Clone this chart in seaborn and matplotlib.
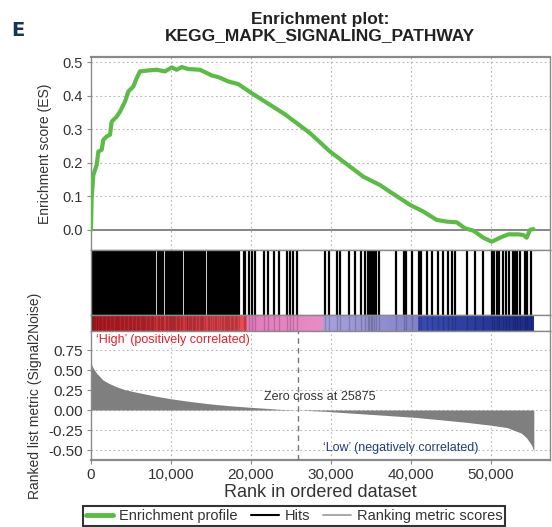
import numpy as np
import pandas as pd
import matplotlib
matplotlib.use("Agg")
import matplotlib.pyplot as plt
from matplotlib.colors import LinearSegmentedColormap
from matplotlib.lines import Line2D
import seaborn as sns

sns.set_style("white")
plt.rcParams["font.family"] = ["Liberation Sans", "DejaVu Sans"]

# Running enrichment score (rank, ES)
es_rank = [0, 80, 290, 710, 920, 1330, 1540, 1960, 2375, 2580, 3210, 3625, 4250, 4670,
           5290, 5710, 6125, 7170, 8210, 9250, 10090, 10710, 11340, 12170, 13625,
           15090, 15920, 17170, 18420, 20090, 24250, 27375, 29875, 31540, 34040,
           36125, 37375, 39875, 41540, 43210, 44460, 45710, 46750, 47790, 49040,
           50090, 51125, 52170, 53420, 54040, 54460, 54875, 55290]
es_value = [0.0, 0.095, 0.164, 0.194, 0.234, 0.239, 0.269, 0.279, 0.284, 0.323, 0.338,
            0.353, 0.383, 0.413, 0.428, 0.453, 0.473, 0.476, 0.478, 0.473, 0.485,
            0.478, 0.486, 0.480, 0.478, 0.461, 0.456, 0.443, 0.435, 0.408, 0.345,
            0.289, 0.234, 0.204, 0.159, 0.134, 0.114, 0.075, 0.055, 0.030, 0.025,
            0.023, 0.005, -0.002, -0.023, -0.035, -0.023, -0.013, -0.013, -0.015,
            -0.023, 0.0, 0.003]

# Positions of gene-set members in the ranked list
hit_ranks = [15, 90, 180, 300, 430, 560, 690, 790, 960, 1120, 1290, 1460, 1620, 1790,
             1960, 2125, 2290, 2460, 2630, 2800, 2970, 3120, 3210, 3375, 3540, 3710,
             3880, 4050, 4220, 4390, 4560, 4710, 4875, 5040, 5210, 5380, 5550, 5710,
             5875, 6040, 6210, 6380, 6460, 6625, 6790, 6960, 7125, 7290, 7460, 7630,
             7800, 7960, 8375, 8540, 8710, 8880, 9040, 9375, 9540, 9710, 9880, 9960,
             10125, 10290, 10375, 10540, 10710, 10880, 11050, 11220, 11375, 11790,
             11960, 12040, 12210, 12380, 12550, 12720, 12890, 13060, 13230, 13400,
             13570, 13710, 13875, 14040, 14210, 14625, 14790, 15000, 15200, 15440,
             15600, 15875, 16100, 16375, 16540, 16710, 16880, 17000, 17125, 17290,
             17460, 17630, 17800, 17970, 18140, 18310, 18440, 19125, 19300, 19690,
             20125, 20500, 21625, 22125, 22910, 23500, 24460, 24875, 25250, 25690,
             29190, 29770, 30750, 31160, 32310, 33040, 33770, 34190, 34625, 34800,
             34980, 35160, 35340, 35650, 36040, 38160, 39160, 39410, 40150, 41040,
             41290, 42000, 42660, 43400, 44000, 44600, 45090, 45500, 47000, 48000,
             49025, 50125, 50375, 50710, 51000, 51560, 51875, 52250, 52690, 53000,
             53310, 53625, 54250, 54560, 55025]

# Ranked list metric (Signal2Noise)
metric_rank = [0, 100, 300, 700, 1500, 2300, 3200, 4200, 5300, 6500, 8000, 10000,
               12500, 15000, 17500, 20000, 22000, 23600, 25875, 26000, 29000, 32000,
               35000, 38000, 40250, 44000, 47000, 50000, 52000, 52790, 53800, 54460,
               55080, 55300, 55350]
metric_value = [0.60, 0.56, 0.52, 0.46, 0.375, 0.33, 0.29, 0.255, 0.23, 0.205, 0.175,
                0.14, 0.105, 0.075, 0.052, 0.033, 0.02, 0.008, 0.0, -0.001, -0.015,
                -0.035, -0.055, -0.075, -0.09, -0.125, -0.155, -0.19, -0.22, -0.25,
                -0.29, -0.35, -0.44, -0.5, -0.54]

n_genes = 55350
zero_cross = 25875
x_ticks = [0, 10000, 20000, 30000, 40000, 50000]
x_ticklabels = ["0", "10,000", "20,000", "30,000", "40,000", "50,000"]
es_ticks = [0.0, 0.1, 0.2, 0.3, 0.4, 0.5]
metric_ticks = [0.75, 0.5, 0.25, 0.0, -0.25, -0.5]
metric_ticklabels = ["0.75", "0.50", "0.25", "0.00", "-0.25", "-0.50"]

GREEN = "#5cba47"
SPINE = "#8a8a8a"
TXT = "#333333"
W, H = 552, 527
XMAX = 57375

fig = plt.figure(figsize=(W / 100, H / 100), dpi=100)


def box(top, bottom):
    return [91 / W, 1 - bottom / H, 459 / W, (bottom - top) / H]


ax_es = fig.add_axes(box(57, 250))
ax_hits = fig.add_axes(box(250, 315))
ax_band = fig.add_axes(box(315, 331))
ax_rank = fig.add_axes(box(331, 460))

grid_kw = dict(color="#b5b5b5", lw=0.8, ls=(0, (1.5, 2.5)))

for ax in (ax_es, ax_hits, ax_band, ax_rank):
    ax.set_xlim(0, XMAX)
    for s in ax.spines.values():
        s.set_color(SPINE)
        s.set_linewidth(1.0)

# --- enrichment score panel
es_df = pd.DataFrame({"rank": es_rank, "es": es_value})
for gx in x_ticks[1:]:
    ax_es.axvline(gx, **grid_kw, zorder=0)
for gy in es_ticks[1:]:
    ax_es.axhline(gy, **grid_kw, zorder=0)
ax_es.axhline(0, color="#666666", lw=1.1, zorder=1)
sns.lineplot(data=es_df, x="rank", y="es", ax=ax_es, color=GREEN, lw=3.0,
             solid_capstyle="round", zorder=3)
ax_es.set_ylim(-0.0597, 0.516)
ax_es.set_yticks(es_ticks)
ax_es.set_yticklabels([f"{t:.1f}" for t in es_ticks])
ax_es.set_xticks([])
ax_es.set_xlabel("")
ax_es.set_ylabel("Enrichment score (ES)", fontsize=10, color=TXT, labelpad=7)
ax_es.spines["top"].set_linewidth(1.6)
ax_es.tick_params(axis="y", length=3, width=0.8, color=SPINE, labelsize=10.5,
                  labelcolor=TXT, pad=3, left=True)

# --- hits panel
ax_hits.vlines(hit_ranks, 0, 1, color="black", lw=1.6)
ax_hits.set_ylim(0, 1)
ax_hits.set_xticks([])
ax_hits.set_yticks([])

# --- colour band
band_cmap = LinearSegmentedColormap.from_list(
    "band",
    [(0.0, "#c61d27"), (0.35, "#ee4d56"), (0.351, "#e37cbd"), (0.523, "#e88cc6"),
     (0.524, "#a7a3dc"), (0.74, "#8382c8"), (0.741, "#3a4cb2"), (1.0, "#1d2c8a")])
ax_band.imshow(np.linspace(0, 1, 600)[None, :], cmap=band_cmap, aspect="auto",
               extent=[0, n_genes, 0, 1], zorder=1)
ax_band.vlines(hit_ranks, 0, 1, color="black", lw=1.0, alpha=0.18, zorder=2)
ax_band.set_xlim(0, XMAX)
ax_band.set_ylim(0, 1)
ax_band.set_xticks([])
ax_band.set_yticks([])

# --- ranked list metric panel
for gx in x_ticks[1:]:
    ax_rank.axvline(gx, **grid_kw, zorder=0)
for gy in metric_ticks:
    ax_rank.axhline(gy, **grid_kw, zorder=0)
ax_rank.fill_between(metric_rank, metric_value, 0, color="#7f7f7f", lw=0, zorder=2)
ax_rank.axvline(zero_cross, color="#777777", lw=1.0, ls=(0, (4, 3)), zorder=3)
ax_rank.set_ylim(-0.625, 0.9875)
ax_rank.set_yticks(metric_ticks)
ax_rank.set_yticklabels(metric_ticklabels)
ax_rank.set_xticks(x_ticks)
ax_rank.set_xticklabels(x_ticklabels)
ax_rank.tick_params(axis="both", length=3, width=0.8, color=SPINE, labelsize=11,
                    labelcolor=TXT, pad=3, left=True, bottom=True)
ax_rank.spines["bottom"].set_linewidth(1.6)
ax_rank.set_xlabel("Rank in ordered dataset", fontsize=13, color=TXT, labelpad=1)
ax_rank.set_ylabel("Ranked list metric (Signal2Noise)", fontsize=10, color=TXT,
                   labelpad=4)
ax_rank.text(600, 0.875, "\u2018High\u2019 (positively correlated)", color="#e8202a",
             fontsize=9, va="center", ha="left")
ax_rank.text(28600, 0.16, f"Zero cross at {zero_cross}", color=TXT,
             fontsize=9, va="center", ha="center")
ax_rank.text(29000, -0.475, "\u2018Low\u2019 (negatively correlated)", color="#1f3f80",
             fontsize=9, va="center", ha="left")

# --- titles
fig.text(320 / W, 1 - 12 / H, "Enrichment plot:\nKEGG_MAPK_SIGNALING_PATHWAY",
         ha="center", va="top", fontsize=12.5, fontweight="bold", color="#222222",
         linespacing=1.05)
fig.text(11 / W, 1 - 21 / H, "E", ha="left", va="top", fontsize=14,
         fontweight="bold", color="#17325f", family=["DejaVu Sans"])

# --- legend
handles = [Line2D([], [], color=GREEN, lw=3.5),
           Line2D([], [], color="black", lw=1.5),
           Line2D([], [], color="#9a9a9a", lw=1.2)]
leg = fig.legend(handles, ["Enrichment profile", "Hits", "Ranking metric scores"],
                 loc="upper center", bbox_to_anchor=(294 / W, 1 - 506 / H), ncol=3,
                 fontsize=10.5, frameon=True, fancybox=False, handlelength=1.9,
                 handletextpad=0.4, columnspacing=0.9, borderpad=0.2,
                 borderaxespad=0.0)
leg.get_frame().set_edgecolor("black")
leg.get_frame().set_linewidth(1.5)
for t in leg.get_texts():
    t.set_color(TXT)

fig.savefig("out.png", dpi=100)
